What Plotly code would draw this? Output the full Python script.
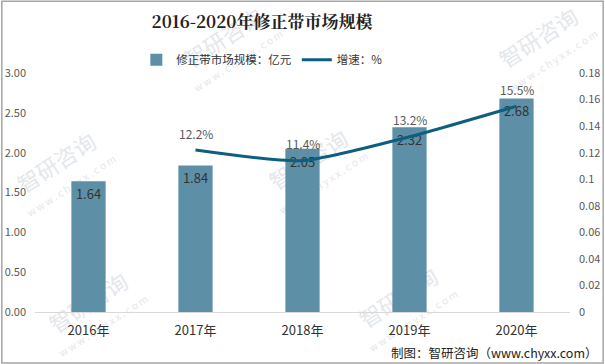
import plotly.graph_objects as go

years = ["2016年", "2017年", "2018年", "2019年", "2020年"]
market_size = [1.64, 1.84, 2.05, 2.32, 2.68]
growth_years = ["2017年", "2018年", "2019年", "2020年"]
growth = [0.122, 0.114, 0.132, 0.155]
growth_labels = ["12.2%", "11.4%", "13.2%", "15.5%"]
left_ticks = [0, 0.5, 1.0, 1.5, 2.0, 2.5, 3.0]
right_ticks = [0, 0.02, 0.04, 0.06, 0.08, 0.1, 0.12, 0.14, 0.16, 0.18]
right_ticktext = ["0", "0.02", "0.04", "0.06", "0.08", "0.1", "0.12", "0.14", "0.16", "0.18"]

FONT = "Noto Sans CJK SC, Microsoft YaHei, sans-serif"
W, H = 605, 364
ML, MR, MT, MB = 35, 35, 73, 52
PW, PH = W - ML - MR, H - MT - MB


def px2paper(px, py):
    return (px - ML) / PW, (H - MB - py) / PH


fig = go.Figure()
fig.add_trace(go.Bar(
    x=years, y=market_size, name="修正带市场规模：亿元",
    marker=dict(color="#5d8fa7", line=dict(width=0)),
    width=0.32,
    text=[f"{v:.2f}" for v in market_size],
    textposition="inside", insidetextanchor="end",
    textfont=dict(color="#333333", size=13, family=FONT),
    cliponaxis=False,
))
fig.add_trace(go.Scatter(
    x=growth_years, y=growth, name="增速：%", yaxis="y2",
    mode="lines", line=dict(color="#0d5f80", width=3, shape="spline", smoothing=0.6),
))
for xv, yv, t in zip(growth_years, growth, growth_labels):
    fig.add_annotation(x=xv, y=yv, yref="y2", text=t, showarrow=False,
                       yshift=17, font=dict(color="#595959", size=12, family=FONT))

fig.add_annotation(x=1, xref="paper", xanchor="right", y=-0.168, yref="paper",
                   yanchor="middle", text="制图：智研咨询（www.chyxx.com）", showarrow=False,
                   xshift=30, font=dict(color="#222222", size=12.5, family=FONT))

shapes = [dict(type="rect", xref="paper", yref="paper", x0=-0.062, x1=1.062,
               y0=-0.213, y1=1.30, line=dict(color="#a6a6a6", width=1.5))]

# faint watermark pattern (behind the data)
wm_centers = [(225, 40), (540, 40), (310, 162), (58, 165), (90, 305), (400, 300)]
for cx, cy in wm_centers:
    for dx, dy, txt, sz in [(0, 0, "智研咨询", 22), (14, 22, "w w w . c h y x x . c o m", 10)]:
        xp, yp = px2paper(cx + dx, cy + dy)
        shapes.append(dict(type="rect", xref="paper", yref="paper", layer="below",
                           x0=xp - 0.01, x1=xp + 0.01, y0=yp - 0.01, y1=yp + 0.01,
                           line=dict(width=0), fillcolor="rgba(0,0,0,0)",
                           label=dict(text=txt, textangle=-33, textposition="middle center",
                                      font=dict(size=sz, color="#e4e7eb", family=FONT))))

fig.update_layout(
    template="none",
    width=W, height=H,
    margin=dict(l=ML, r=MR, t=MT, b=MB, autoexpand=False),
    paper_bgcolor="white", plot_bgcolor="rgba(0,0,0,0)",
    title=dict(text="<b>2016-2020年修正带市场规模</b>", x=0.433, xanchor="center",
               y=0.94, yanchor="middle",
               font=dict(size=17, color="#222222", family="Noto Serif CJK SC, Noto Sans CJK SC, serif")),
    font=dict(family=FONT, color="#595959"),
    showlegend=True,
    legend=dict(orientation="h", x=0.424, xanchor="center", y=1.055, yanchor="middle",
                font=dict(size=11.5, color="#333333", family=FONT), itemwidth=30,
                bgcolor="rgba(0,0,0,0)"),
    bargap=0.68,
    xaxis=dict(showline=True, linecolor="#d9d9d9", linewidth=1, ticks="", automargin=False,
               ticklabelstandoff=6,
               tickfont=dict(size=13, color="#333333", family=FONT), showgrid=False),
    yaxis=dict(range=[0, 3.0], tickvals=left_ticks, tickformat=".2f", showgrid=False,
               zeroline=False, automargin=False, ticks="", ticklabelstandoff=8,
               tickfont=dict(size=11, color="#595959", family=FONT)),
    yaxis2=dict(range=[0, 0.18], overlaying="y", side="right", tickvals=right_ticks,
                ticktext=right_ticktext, showgrid=False, zeroline=False, automargin=False,
                ticks="", ticklabelstandoff=8,
                tickfont=dict(size=11, color="#595959", family=FONT)),
    shapes=shapes,
)

fig.write_html("out.html", config={"displayModeBar": False},
               post_script="document.body.style.margin='0';document.body.style.overflow='hidden';")
